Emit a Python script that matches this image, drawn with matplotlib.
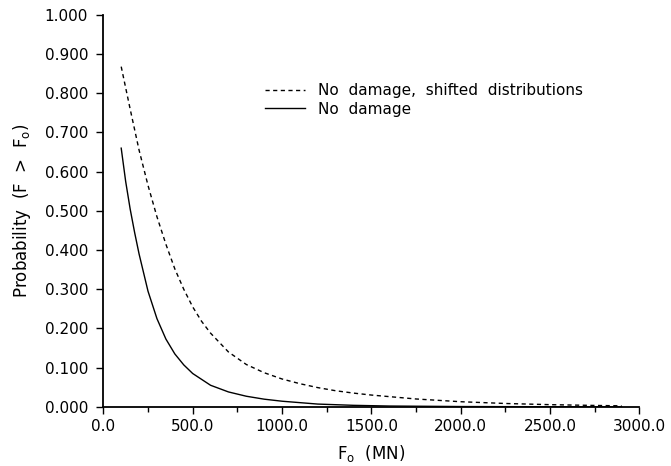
import numpy as np
import matplotlib
matplotlib.use('Agg')
import matplotlib.pyplot as plt
from matplotlib.ticker import MultipleLocator, FormatStrFormatter

# values
force_shifted = [100, 150, 200, 250, 300, 350, 400, 450, 500, 550, 600, 700, 800, 900,
                 1000, 1100, 1200, 1300, 1400, 1500, 1750, 2000, 2250, 2500, 2750, 2900]
prob_shifted = [0.868, 0.76, 0.655, 0.565, 0.485, 0.415, 0.352, 0.300, 0.255, 0.218,
                0.188, 0.140, 0.108, 0.087, 0.071, 0.059, 0.049, 0.041, 0.035, 0.030,
                0.020, 0.013, 0.0085, 0.0055, 0.0035, 0.0025]

force_nodmg = [100, 125, 150, 175, 200, 250, 300, 350, 400, 450, 500, 600, 700, 800,
               900, 1000, 1200, 1400, 1600, 2000, 2500, 2900]
prob_nodmg = [0.66, 0.575, 0.505, 0.445, 0.39, 0.295, 0.225, 0.173, 0.135, 0.107, 0.085,
              0.055, 0.038, 0.027, 0.0195, 0.0143, 0.007, 0.0038, 0.002, 0.0007, 0.0002,
              0.0001]

labels = ['No  damage,  shifted  distributions', 'No  damage']

FS = 11
W, H, DPI = 671, 466, 100

fig = plt.figure(figsize=(W / DPI, H / DPI), dpi=DPI)
ax = fig.add_axes([0.154, 0.127, 0.799, 0.841])

ax.plot(force_shifted, prob_shifted, color='black', lw=1.0, ls=(0, (3, 2.5)), label=labels[0])
ax.plot(force_nodmg, prob_nodmg, color='black', lw=1.0, label=labels[1])

ax.set_xlim(0, 3000)
ax.set_ylim(0, 1.0)
ax.xaxis.set_major_locator(MultipleLocator(500))
ax.xaxis.set_minor_locator(MultipleLocator(250))
ax.yaxis.set_major_locator(MultipleLocator(0.1))
ax.xaxis.set_major_formatter(FormatStrFormatter('%.1f'))
ax.yaxis.set_major_formatter(FormatStrFormatter('%.3f'))

ax.tick_params(which='major', direction='out', length=5, width=1.0, labelsize=FS)
ax.tick_params(axis='y', which='major', pad=6)
ax.tick_params(axis='x', which='major', pad=4)
ax.tick_params(which='minor', direction='out', length=3.5, width=1.0)
ax.tick_params(axis='y', which='minor', left=False)

for s in ['top', 'right']:
    ax.spines[s].set_visible(False)
for s in ['left', 'bottom']:
    ax.spines[s].set_linewidth(1.3)

ax.set_xlabel(r'F$_{\rm o}$  (MN)', fontsize=FS + 1, labelpad=6)
ax.set_ylabel(r'Probability  (F  >  F$_{\rm o}$)', fontsize=FS + 1, labelpad=8)

ax.legend(loc='upper left', bbox_to_anchor=(0.302, 0.825), frameon=False,
          fontsize=FS, handlelength=2.6, handletextpad=0.85,
          borderaxespad=0, borderpad=0, labelspacing=0.2)

fig.savefig('out.png', dpi=DPI)
